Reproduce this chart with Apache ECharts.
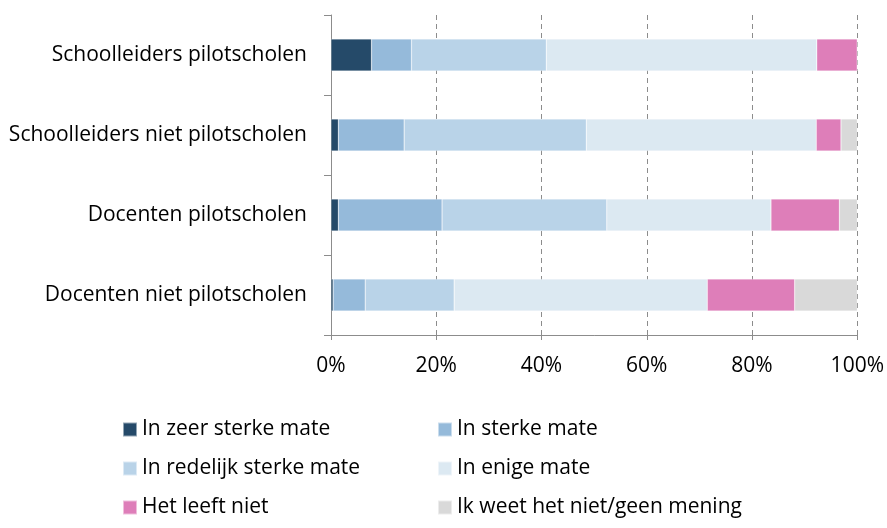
<!DOCTYPE html>
<html lang="nl">
<head>
    <meta charset="UTF-8"/>
    <script src="https://cdn.jsdelivr.net/npm/echarts@6/dist/echarts.min.js"></script>
    <title>pilotscholen</title>
    <style>
        html, body { margin: 0; padding: 0; background: #fff; }
    </style>
</head>
<body>
<div id="main" style="width: 887px;height:528px;"></div>
<script type="text/javascript">
    // categorieen (van boven naar beneden)
    var categories = ['Schoolleiders pilotscholen', 'Schoolleiders niet pilotscholen',
        'Docenten pilotscholen', 'Docenten niet pilotscholen'];

    // percentages per antwoordcategorie
    var zeerSterk = [7.7, 1.4, 1.4, 0.4];
    var sterk = [7.6, 12.5, 19.7, 6.1];
    var redelijkSterk = [25.6, 34.6, 31.3, 16.9];
    var enige = [51.4, 43.7, 31.2, 48.1];
    var leeftNiet = [7.7, 4.7, 13.0, 16.6];
    var weetNiet = [0, 3.1, 3.4, 11.9];

    var seriesNames = ['In zeer sterke mate', 'In sterke mate', 'In redelijk sterke mate',
        'In enige mate', 'Het leeft niet', 'Ik weet het niet/geen mening'];
    var seriesData = [zeerSterk, sterk, redelijkSterk, enige, leeftNiet, weetNiet];
    var colors = ['#254a69', '#95bada', '#b9d3e8', '#dce9f2', '#de7eb9', '#d9d9d9'];

    var font = '"Open Sans", sans-serif';

    var myChart = echarts.init(document.getElementById('main'));

    var series = [];
    for (var i = 0; i < seriesNames.length; i++) {
        series.push({
            name: seriesNames[i],
            type: 'bar',
            stack: 'totaal',
            barWidth: '40%',
            data: seriesData[i],
            itemStyle: {
                color: colors[i],
                borderColor: 'rgba(255,255,255,0.5)',
                borderWidth: 0.5
            }
        });
    }

    var legendText = {fontFamily: font, fontSize: 21, color: '#000'};

    var option = {
        animation: false,
        color: colors,
        textStyle: {fontFamily: font},
        grid: {left: 331, right: 28, top: 15, bottom: 193},
        legend: [
            {
                data: [seriesNames[0], seriesNames[2], seriesNames[4]],
                orient: 'vertical',
                left: 117, top: 414,
                itemWidth: 14, itemHeight: 14, itemGap: 18,
                icon: 'rect',
                textStyle: legendText,
                selectedMode: false
            },
            {
                data: [seriesNames[1], seriesNames[3], seriesNames[5]],
                orient: 'vertical',
                left: 432, top: 414,
                itemWidth: 14, itemHeight: 14, itemGap: 18,
                icon: 'rect',
                textStyle: legendText,
                selectedMode: false
            }
        ],
        xAxis: {
            type: 'value',
            min: 0, max: 100, interval: 20,
            axisLabel: {
                formatter: '{value}%',
                fontFamily: font, fontSize: 21, color: '#000', margin: 21
            },
            axisLine: {show: true, lineStyle: {color: '#8c8c8c'}},
            axisTick: {show: true, length: 5, lineStyle: {color: '#8c8c8c'}},
            splitLine: {show: true, lineStyle: {color: '#8c8c8c', type: [5, 4]}}
        },
        yAxis: {
            type: 'category',
            inverse: true,
            data: categories,
            axisLabel: {fontFamily: font, fontSize: 21, color: '#000', margin: 24},
            axisLine: {show: true, lineStyle: {color: '#8c8c8c'}},
            axisTick: {show: true, length: 7, alignWithLabel: false, lineStyle: {color: '#8c8c8c'}}
        },
        series: series
    };

    myChart.setOption(option);
</script>
</body>
</html>
